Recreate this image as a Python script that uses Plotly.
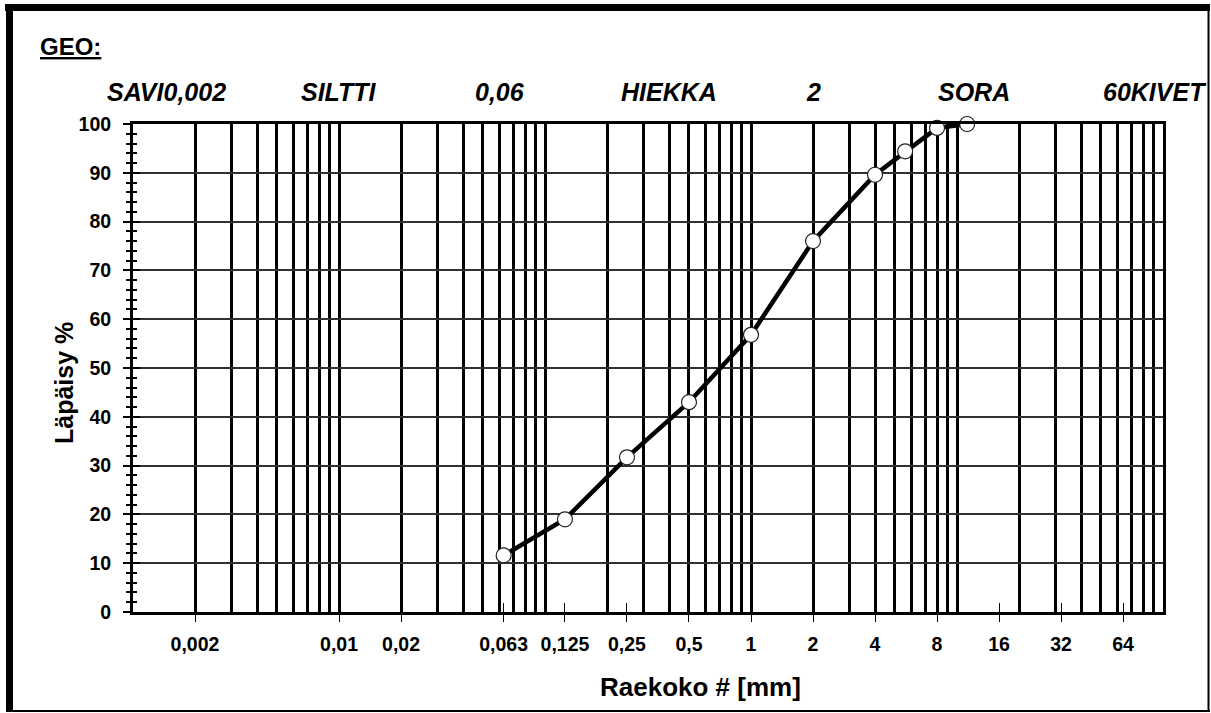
import plotly.graph_objects as go

# ---- data ----
sieve_mm = [0.063, 0.125, 0.25, 0.5, 1, 2, 4, 5.6, 8, 11.2]
passing_pct = [11.6, 19.0, 31.7, 43.0, 56.8, 76.0, 89.6, 94.4, 99.2, 100.0]

x_tick_vals = [0.002, 0.01, 0.02, 0.063, 0.125, 0.25, 0.5, 1, 2, 4, 8, 16, 32, 64]
x_tick_text = ["0,002", "0,01", "0,02", "0,063", "0,125", "0,25", "0,5",
               "1", "2", "4", "8", "16", "32", "64"]
# log grid lines: 1..9 x each decade (axis structure)
grid_x = [m * 10.0 ** e for e in range(-3, 2) for m in range(1, 10)][1:]

zone_labels = ["SAVI0,002", "SILTTI", "0,06", "HIEKKA", "2", "SORA", "60KIVET"]
zone_px = [166, 339, 500, 669, 813, 974, 1155]

# ---- layout geometry (pixels) ----
W, H = 1211, 713
L, R, T, B = 133, 48, 124, 101
PW, PH = W - L - R, H - T - B


def px2x(px):
    return (px - L) / PW


def py2y(py):
    return (H - B - py) / PH


FONT = "Liberation Sans, Arial, sans-serif"

fig = go.Figure()
fig.add_trace(go.Scatter(
    x=sieve_mm, y=passing_pct, mode="lines+markers",
    line=dict(color="black", width=4.5),
    marker=dict(size=15, color="white", line=dict(color="#222222", width=1.2)),
    cliponaxis=False, showlegend=False, hoverinfo="x+y",
))
# helper traces so overlay axes are drawn
fig.add_trace(go.Scatter(x=[None], y=[None], xaxis="x2", yaxis="y", showlegend=False, hoverinfo="skip"))
fig.add_trace(go.Scatter(x=[None], y=[None], xaxis="x3", yaxis="y", showlegend=False, hoverinfo="skip"))
fig.add_trace(go.Scatter(x=[None], y=[None], xaxis="x", yaxis="y2", showlegend=False, hoverinfo="skip"))

tickfont = dict(family=FONT, size=19.5, color="black", weight="bold")

fig.update_layout(
    width=W, height=H,
    margin=dict(l=L, r=R, t=T, b=B, pad=0),
    paper_bgcolor="white", plot_bgcolor="white",
    xaxis=dict(type="log", range=[-3, 2], tickmode="array", tickvals=grid_x,
               showticklabels=False, ticks="", showgrid=True, gridcolor="black",
               gridwidth=2.6, showline=True, linecolor="black", linewidth=3,
               mirror=True, zeroline=False),
    xaxis2=dict(type="log", range=[-3, 2], overlaying="x", anchor="y", side="bottom",
                tickmode="array", tickvals=x_tick_vals, ticktext=x_tick_text,
                ticks="outside", ticklen=9, tickwidth=1.3, tickcolor="black",
                tickfont=tickfont, showgrid=False, showline=False, zeroline=False,
                ticklabelstandoff=6),
    xaxis3=dict(type="log", range=[-3, 2], overlaying="x", anchor="y", side="bottom",
                tickmode="array", tickvals=x_tick_vals, ticks="inside", ticklen=9,
                tickwidth=1.3, tickcolor="black", showticklabels=False,
                showgrid=False, showline=False, zeroline=False),
    yaxis=dict(range=[0, 100], tickmode="linear", tick0=0, dtick=10,
               ticks="outside", ticklen=7, tickwidth=2, tickcolor="black",
               tickfont=tickfont, showgrid=True, gridcolor="#303030", gridwidth=1.6,
               showline=True, linecolor="black", linewidth=3, mirror=True,
               zeroline=False, ticklabelstandoff=8,
               minor=dict(dtick=2, ticks="outside", ticklen=4, tickwidth=2,
                          tickcolor="black", showgrid=False)),
    yaxis2=dict(range=[0, 100], overlaying="y", anchor="x", side="left",
                tickmode="linear", tick0=0, dtick=10, ticks="inside", ticklen=7,
                tickwidth=2, tickcolor="black", showticklabels=False,
                showgrid=False, showline=False, zeroline=False,
                minor=dict(dtick=2, ticks="inside", ticklen=4, tickwidth=2,
                           tickcolor="black", showgrid=False)),
)

ann = []
ann.append(dict(text="<u>GEO:</u>", x=px2x(38), y=py2y(46), xref="paper", yref="paper",
                xanchor="left", yanchor="middle", showarrow=False,
                font=dict(family=FONT, size=24, color="black", weight="bold")))
for lab, p in zip(zone_labels, zone_px):
    ann.append(dict(text=lab, x=px2x(p), y=py2y(92), xref="paper", yref="paper",
                    xanchor="center", yanchor="middle", showarrow=False,
                    font=dict(family=FONT, size=25, color="black", weight="bold",
                              style="italic")))
ann.append(dict(text="Raekoko # [mm]", x=px2x(700), y=py2y(687), xref="paper", yref="paper",
                xanchor="center", yanchor="middle", showarrow=False,
                font=dict(family=FONT, size=26, color="black", weight="bold")))
ann.append(dict(text="Läpäisy %", x=px2x(64), y=py2y(383), xref="paper", yref="paper",
                xanchor="center", yanchor="middle", showarrow=False, textangle=-90,
                font=dict(family=FONT, size=25, color="black", weight="bold")))
fig.update_layout(annotations=ann)

# outer frame: thick top/left, thin right/bottom
frame = [
    (5, 7.5, 1210, 7.5, 7),
    (9.5, 4, 9.5, 712, 7),
    (1208.5, 4, 1208.5, 712, 2),
    (6, 711, 1210, 711, 2),
]
for x0, y0, x1, y1, w in frame:
    fig.add_shape(type="line", xref="paper", yref="paper",
                  x0=px2x(x0), y0=py2y(y0), x1=px2x(x1), y1=py2y(y1),
                  line=dict(color="black", width=w))

fig.write_html("out.html", config={"displayModeBar": False},
               post_script="document.body.style.margin='0';document.body.style.overflow='hidden';")
